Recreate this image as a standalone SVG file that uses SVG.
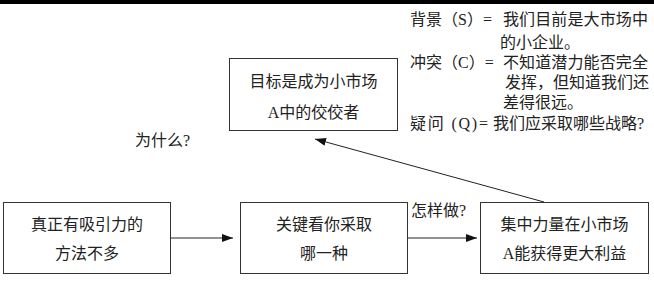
<svg xmlns="http://www.w3.org/2000/svg" width="654" height="282" viewBox="0 0 654 282">
<defs>
<style>
text{font-family:"Liberation Serif","Noto Sans CJK SC",serif;font-size:16px;fill:#222;}
.c{text-anchor:middle;}
.box{fill:#fff;stroke:#333;stroke-width:1;}
.conn{stroke:#222;stroke-width:1;fill:none;}
</style>
<marker id="ah" markerUnits="userSpaceOnUse" markerWidth="11" markerHeight="8" refX="11" refY="4" orient="auto">
<path d="M0,0 L11,4 L0,8 z" fill="#111"/>
</marker>
</defs>
<rect x="0" y="0" width="654" height="282" fill="#fff"/>
<rect x="0" y="0" width="654" height="4" fill="#000"/>

<g id="scq">
<text x="410" y="25">背景（S）=</text>
<text x="503" y="25" textLength="145">我们目前是大市场中</text>
<text x="500" y="48">的小企业。</text>
<text x="410" y="68">冲突（C）=</text>
<text x="503" y="68" textLength="145">不知道潜力能否完全</text>
<text x="505" y="88">发挥，但知道我们还</text>
<text x="503" y="108">差得很远。</text>
<text x="410" y="129" textLength="78" lengthAdjust="spacing">疑问 (Q)=</text>
<text x="493" y="129">我们应采取哪些战略?</text>
</g>

<g id="goal">
<rect class="box" x="229.5" y="58.5" width="168" height="72"/>
<text class="c" x="313.5" y="87">目标是成为小市场</text>
<text class="c" x="313.5" y="118">A中的佼佼者</text>
</g>

<g id="n1">
<rect class="box" x="3.5" y="202.5" width="167" height="71"/>
<text class="c" x="87" y="230">真正有吸引力的</text>
<text class="c" x="87" y="259">方法不多</text>
</g>

<g id="n2">
<rect class="box" x="240.5" y="202.5" width="167" height="71"/>
<text class="c" x="324" y="230">关键看你采取</text>
<text class="c" x="324" y="259">哪一种</text>
</g>

<g id="n3">
<rect class="box" x="480.5" y="202.5" width="168" height="71"/>
<text class="c" x="564.5" y="230">集中力量在小市场</text>
<text class="c" x="564.5" y="259">A能获得更大利益</text>
</g>

<g id="connectors">
<line class="conn" x1="171" y1="238" x2="233" y2="238" marker-end="url(#ah)"/>
<line class="conn" x1="408" y1="238" x2="477" y2="238" marker-end="url(#ah)"/>
<line class="conn" x1="544" y1="202" x2="315" y2="139" marker-end="url(#ah)"/>
</g>

<g id="labels">
<text x="135" y="146">为什么?</text>
<text x="411" y="216">怎样做?</text>
</g>
</svg>
